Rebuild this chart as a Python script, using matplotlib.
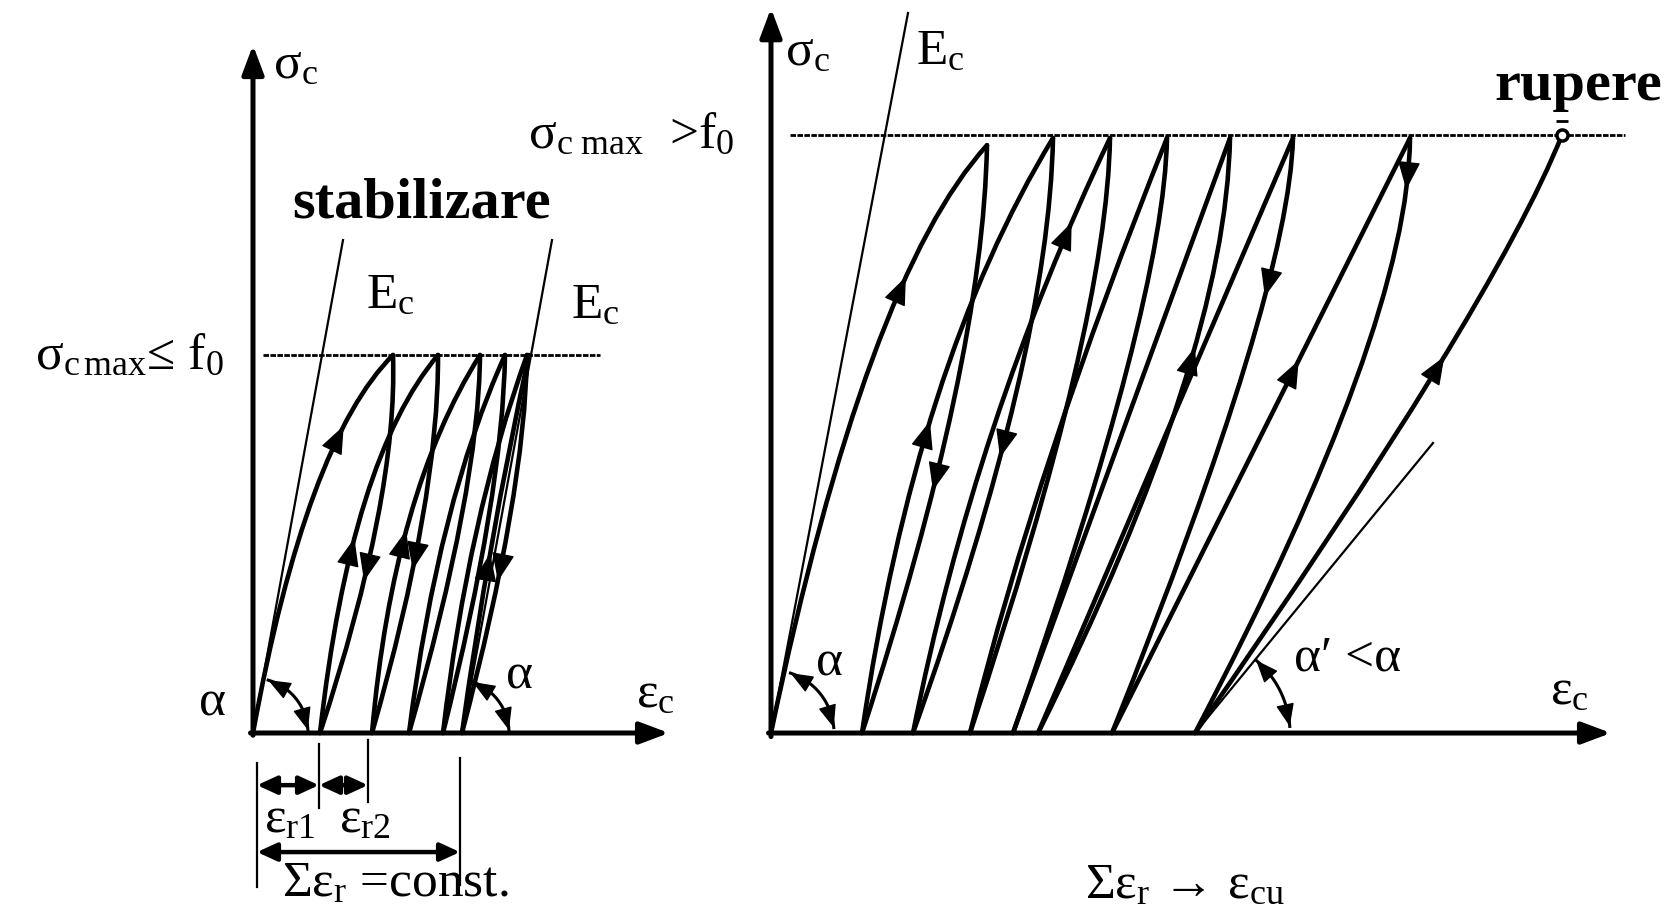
import numpy as np
import matplotlib.pyplot as plt
from matplotlib.path import Path
from matplotlib.patches import PathPatch

plt.rcParams['font.family'] = ['Liberation Serif', 'DejaVu Serif']
plt.rcParams['mathtext.fontset'] = 'custom'
plt.rcParams['mathtext.rm'] = 'Liberation Serif'
plt.rcParams['mathtext.it'] = 'Liberation Serif:italic'
plt.rcParams['mathtext.bf'] = 'Liberation Serif:bold'

# strain in arbitrary units, stress as sigma_c / sigma_c,max

# left diagram: sigma_c,max <= f0 -> stabilisation
left_base = [0.0, 0.67, 1.19, 1.56, 1.90, 2.09]        # residual strain after each cycle
left_peak = [1.40, 1.85, 2.27, 2.52, 2.74, 2.76]       # strain at sigma_c,max
left_peak_sig = [1.0, 1.0, 1.0, 1.0, 1.0, 1.0]
left_load_ctrl = [(0.53, 0.77), (0.98, 0.727), (1.40, 0.635),
                  (1.85, 0.608), (2.15, 0.569), (2.35, 0.503)]
left_unload_ctrl = [(1.45, 0.624), (1.86, 0.619), (2.26, 0.648),
                    (2.50, 0.635), (2.72, 0.635)]
left_arrows = [('L', 0, 0.812, 'up'), ('L', 1, 0.516, 'up'), ('U', 1, 0.402, 'down'),
               ('L', 2, 0.537, 'up'), ('U', 2, 0.431, 'down'),
               ('L', 5, 0.474, 'up'), ('U', 5, 0.402, 'down')]
left_dim_ticks = [0.04, 0.66, 1.15, 2.07]

# right diagram: sigma_c,max > f0 -> failure
right_base = [0.0, 0.91, 1.42, 1.99, 2.42, 2.67, 3.41, 4.24]
right_peak = [2.16, 2.82, 3.39, 3.96, 4.59, 5.22, 6.39, 7.91]   # last = rupere
right_peak_sig = [0.983, 0.995, 0.995, 0.995, 0.995, 0.995, 0.995, 1.0]
right_load_ctrl = [(0.95, 0.761), (1.45, 0.619), (2.04, 0.522), (2.67, 0.457),
                   (3.50, 0.497), (3.94, 0.497), (4.90, 0.497), (7.22, 0.712)]
right_unload_ctrl = [(2.12, 0.619), (2.78, 0.637), (3.36, 0.687), (3.93, 0.72),
                     (4.55, 0.629), (5.18, 0.739), (6.38, 0.681)]
right_arrows = [('L', 0, 0.763, 'up'), ('L', 1, 0.523, 'up'), ('U', 1, 0.406, 'down'),
                ('U', 2, 0.46, 'down'), ('L', 2, 0.853, 'up'), ('U', 5, 0.645, 'up'),
                ('U', 6, 0.729, 'down'), ('L', 6, 0.624, 'up'), ('U', 7, 0.908, 'down'),
                ('L', 7, 0.629, 'up')]

FS = 37
FS_BOLD = 42

fig = plt.figure(figsize=(16.71, 9.15), dpi=100)
axL = fig.add_axes([0, 0, 1, 1])
axR = fig.add_axes([0, 0, 1, 1])
axR.patch.set_alpha(0)
axL.set_xlim(-2.53, 14.18)
axL.set_ylim(-0.4815, 1.9392)
axR.set_xlim(-7.71, 9.00)
axR.set_ylim(-0.3043, 1.2258)
for a in (axL, axR):
    a.axis('off')


def curve(ax, s, c, e, lw=3.3):
    p = Path([s, c, e], [Path.MOVETO, Path.CURVE3, Path.CURVE3])
    ax.add_patch(PathPatch(p, fc='none', ec='k', lw=lw, capstyle='round'))
    t = np.linspace(0, 1, 400)[:, None]
    return (1 - t) ** 2 * np.array(s) + 2 * t * (1 - t) * np.array(c) + t ** 2 * np.array(e)


def head(ax, xy, xytext, ms=24, hw=0.3):
    ax.annotate('', xy=xy, xytext=xytext,
                arrowprops=dict(arrowstyle=f'-|>,head_length=0.75,head_width={hw}',
                                mutation_scale=ms, color='k', lw=1,
                                shrinkA=0, shrinkB=0))


def flow_arrow(ax, pts, sig, up):
    disp = ax.transData.transform(pts)
    d = np.r_[0, np.cumsum(np.hypot(*np.diff(disp, axis=0).T))]
    i = np.argmin(np.abs(pts[:, 1] - sig))
    j1 = max(np.searchsorted(d, d[i] - 26), 0)
    j2 = min(np.searchsorted(d, d[i] + 26), len(pts) - 1)
    j = j1 if (pts[j1, 1] < pts[i, 1]) == up else j2
    head(ax, tuple(pts[i]), tuple(pts[j]))


def draw_cycles(ax, base, peak, peak_sig, lctrl, uctrl, arrows):
    curves = {}
    for i in range(len(base)):
        curves[('L', i)] = curve(ax, (base[i], 0), lctrl[i], (peak[i], peak_sig[i]))
    for i in range(1, len(base)):
        curves[('U', i)] = curve(ax, (peak[i - 1], peak_sig[i - 1]), uctrl[i - 1], (base[i], 0))
    for kind, i, sig, dirn in arrows:
        flow_arrow(ax, curves[(kind, i)], sig, dirn == 'up')


def axes_arrows(ax, xend, yend):
    props = dict(arrowstyle='-|>,head_length=0.8,head_width=0.3', mutation_scale=22,
                 lw=3.6, color='k', shrinkA=0, shrinkB=0)
    ax.annotate('', xy=(xend, 0), xytext=(-0.025, 0), arrowprops=props)
    ax.annotate('', xy=(0, yend), xytext=(0, -0.006), arrowprops=props)


def angle_arc(ax, cx, r, a0, a1):
    c = ax.transData.transform((cx, 0))
    ang = np.radians(np.linspace(a0, a1, 60))
    pts = ax.transData.inverted().transform(
        np.c_[c[0] + r * np.cos(ang), c[1] + r * np.sin(ang)])
    ax.plot(pts[:, 0], pts[:, 1], color='k', lw=2.2)
    k = 22
    head(ax, tuple(pts[-1]), tuple(pts[-k]), ms=19)
    head(ax, tuple(pts[0]), tuple(pts[k - 1]), ms=19)


dotted = (0, (2, 0.5))

# ---------- left diagram ----------
axes_arrows(axL, 4.16, 1.82)
axL.plot([0.10, 3.47], [1.0, 1.0], color='k', lw=2.0, ls=dotted)
axL.plot([0, 0.90], [0, 1.304], color='k', lw=1.6)
axL.plot([left_base[-1], 2.99], [0, 1.304], color='k', lw=1.6)
draw_cycles(axL, left_base, left_peak, left_peak_sig, left_load_ctrl, left_unload_ctrl, left_arrows)
angle_arc(axL, 0.0, 55, 3, 74)
angle_arc(axL, 2.02, 54, 3, 71)

# residual strain dimensions
tick_lo = [-0.407, -0.198, -0.183, -0.402]
tick_hi = [-0.079, -0.029, -0.018, -0.066]
for x, lo, hi in zip(left_dim_ticks, tick_lo, tick_hi):
    axL.plot([x, x], [lo, hi], color='k', lw=1.6)
dprops = dict(arrowstyle='<|-|>,head_length=0.7,head_width=0.32', mutation_scale=17,
              lw=3.2, color='k', shrinkA=0, shrinkB=0)
axL.annotate('', xy=(left_dim_ticks[1], -0.138), xytext=(left_dim_ticks[0], -0.138), arrowprops=dprops)
axL.annotate('', xy=(left_dim_ticks[2], -0.138), xytext=(left_dim_ticks[1], -0.138), arrowprops=dprops)
axL.annotate('', xy=(left_dim_ticks[3], -0.315), xytext=(left_dim_ticks[0], -0.315), arrowprops=dprops)

axL.text(0.43, 1.765, r'σ$_\mathrm{c}$', fontsize=FS, ha='center', va='center')
axL.text(-0.29, 0.995, r'σ$_\mathrm{c\,max}$≤ f$_0$', fontsize=FS, ha='right', va='center')
axL.text(1.69, 1.402, 'stabilizare', fontsize=FS_BOLD, fontweight='bold', ha='center', va='center')
axL.text(1.37, 1.156, r'E$_\mathrm{c}$', fontsize=FS, ha='center', va='center')
axL.text(3.42, 1.13, r'E$_\mathrm{c}$', fontsize=FS, ha='center', va='center')
axL.text(-0.40, 0.079, 'α', fontsize=FS, ha='center', va='center')
axL.text(2.67, 0.151, 'α', fontsize=FS, ha='center', va='center')
axL.text(4.02, 0.10, r'ε$_\mathrm{c}$', fontsize=FS, ha='center', va='center')
axL.text(0.37, -0.23, r'ε$_\mathrm{r1}$', fontsize=FS, ha='center', va='center')
axL.text(1.12, -0.23, r'ε$_\mathrm{r2}$', fontsize=FS, ha='center', va='center')
axL.text(1.42, -0.40, r'Σε$_\mathrm{r}$ =const.', fontsize=FS, ha='center', va='center')

# ---------- right diagram ----------
axes_arrows(axR, 8.40, 1.212)
axR.plot([0.19, 8.54], [1.0, 1.0], color='k', lw=2.0, ls=dotted)
axR.plot([0, 1.37], [0, 1.204], color='k', lw=1.6)
axR.plot([right_base[-1], 6.62], [0, 0.485], color='k', lw=1.6)
draw_cycles(axR, right_base, right_peak, right_peak_sig, right_load_ctrl, right_unload_ctrl, right_arrows)
angle_arc(axR, 0.0, 63, 5, 72)
angle_arc(axR, right_base[-1], 95, 4, 50)
axR.plot([right_peak[-1]], [right_peak_sig[-1]], marker='o', ms=8, mfc='white', mec='k', mew=2.5)
axR.plot([right_peak[-1]], [right_peak_sig[-1] + 0.024], marker='_', ms=8, mec='k', mew=2)

axR.text(0.37, 1.137, r'σ$_\mathrm{c}$', fontsize=FS, ha='center', va='center')
axR.text(1.69, 1.139, r'E$_\mathrm{c}$', fontsize=FS, ha='center', va='center')
axR.text(-0.36, 0.998, r'σ$_\mathrm{c\ max}$  >f$_0$', fontsize=FS, ha='right', va='center')
axR.text(8.07, 1.082, 'rupere', fontsize=FS_BOLD, fontweight='bold', ha='center', va='center')
axR.text(0.58, 0.117, 'α', fontsize=FS, ha='center', va='center')
axR.text(5.77, 0.125, 'α′ <α', fontsize=FS, ha='center', va='center')
axR.text(7.98, 0.069, r'ε$_\mathrm{c}$', fontsize=FS, ha='center', va='center')
axR.text(4.14, -0.256, r'Σε$_\mathrm{r}$ → ε$_\mathrm{cu}$', fontsize=FS, ha='center', va='center')

fig.savefig('out.png', dpi=100)
